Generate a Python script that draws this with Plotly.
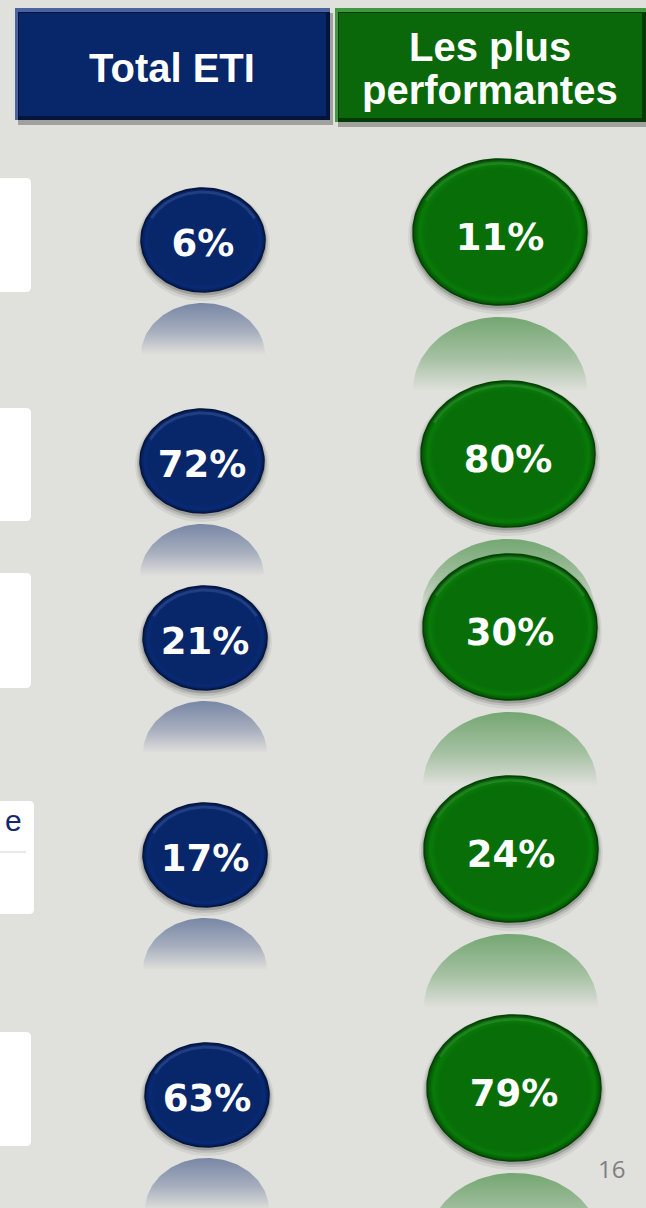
import numpy as np
import plotly.graph_objects as go

# ---------------- data ----------------
categories = ["Critère 1", "Critère 2", "Critère 3", "Critère 4", "Critère 5"]
series_names = ["Total ETI", "Les plus performantes"]
header_lines = [["Total ETI"], ["Les plus", "performantes"]]
total_eti = [6, 72, 21, 17, 63]
plus_performantes = [11, 80, 30, 24, 79]
page_number = "16"
partial_label = "e"

# ---------------- layout constants (pixels) ----------------
W, H = 646, 1208
BG = "#e0e0dc"
BLUE = (8, 38, 106)
GREEN = (8, 110, 8)
BLUE_CX = [203, 202, 205, 205, 207]
BLUE_CY = [240, 461, 638, 855, 1095]
GREEN_CX = [500, 508, 510, 511, 514]
GREEN_CY = [232, 454, 627, 849, 1088]
BLUE_R = (62, 52)
GREEN_R = (87, 73)
LEFT_BOXES = [(178, 292, 31), (408, 521, 31), (573, 688, 31), (801, 914, 34), (1032, 1146, 31)]


def rgba(c, a):
    return f"rgba({c[0]},{c[1]},{c[2]},{a})"


def shade(c, f):
    return f"rgb({min(255, int(c[0]*f))},{min(255, int(c[1]*f))},{min(255, int(c[2]*f))})"


def ellipse(cx, cy, rx, ry, n=140, t0=0, t1=2 * np.pi):
    t = np.linspace(t0, t1, n)
    return cx + rx * np.cos(t), cy + ry * np.sin(t)


fig = go.Figure()

series = [
    (total_eti, BLUE_CX, BLUE_CY, BLUE_R, BLUE, 11, 52, 0.48, 7),
    (plus_performantes, GREEN_CX, GREEN_CY, GREEN_R, GREEN, 12, 74, 0.50, 9),
]

# reflections
for vals, cxs, cys, (rx, ry), col, gap, fade, a0, _ in series:
    for v, cx, cy in zip(vals, cxs, cys):
        top = cy + ry + gap
        x, y = ellipse(cx, top + ry, rx, ry)
        fig.add_trace(go.Scatter(
            x=x, y=y, mode="lines", fill="toself", line=dict(width=0),
            fillgradient=dict(type="vertical", start=top, stop=top + fade,
                              colorscale=[[0, rgba(col, a0)], [0.55, rgba(col, a0 * 0.55)], [1, rgba(col, 0)]]),
            hoverinfo="skip", showlegend=False))

# shadows + bodies + text
for si, (vals, cxs, cys, (rx, ry), col, gap, fade, a0, toff) in enumerate(series):
    for ci, (v, cx, cy) in enumerate(zip(vals, cxs, cys)):
        for grow, dy, al in [(5, 4, 0.06), (3, 3, 0.10), (1.5, 2, 0.16)]:
            x, y = ellipse(cx, cy + dy, rx + grow, ry + grow)
            fig.add_trace(go.Scatter(x=x, y=y, mode="lines", fill="toself", line=dict(width=0),
                                     fillcolor=f"rgba(0,0,0,{al})", hoverinfo="skip", showlegend=False))
        x, y = ellipse(cx, cy, rx, ry)
        base = f"rgb{col}"
        fig.add_trace(go.Scatter(
            x=x, y=y, mode="lines", fill="toself",
            line=dict(width=1.5, color=shade(col, 0.6)),
            fillgradient=dict(type="radial",
                              colorscale=[[0, base], [0.86, base], [0.93, shade(col, 1.12)], [1, shade(col, 0.7)]]),
            name=series_names[si], text=f"{categories[ci]}: {v}%", hoverinfo="text", showlegend=False))
        # top highlight arc
        x, y = ellipse(cx, cy, rx - 4, ry - 4, n=60, t0=np.pi * 1.15, t1=np.pi * 1.85)
        fig.add_trace(go.Scatter(x=x, y=y, mode="lines", line=dict(width=3, color="rgba(255,255,255,0.10)"),
                                 hoverinfo="skip", showlegend=False))
    fig.add_trace(go.Scatter(
        x=cxs, y=[c + toff for c in cys], mode="text",
        text=[f"{v}%" for v in vals], textposition="middle center",
        textfont=dict(family="DejaVu Sans", size=37, color="white", weight="bold"),
        hoverinfo="skip", showlegend=False))

shapes = []
# left white boxes
for (y0, y1, x1) in LEFT_BOXES:
    shapes.append(dict(type="path", xref="x", yref="y",
                       path=f"M -10 {y0} L {x1-5} {y0} Q {x1} {y0} {x1} {y0+5} L {x1} {y1-5} Q {x1} {y1} {x1-5} {y1} L -10 {y1} Z",
                       fillcolor="white", line=dict(width=0), layer="below"))
shapes.append(dict(type="line", xref="x", yref="y", x0=0, x1=26, y0=852, y1=852,
                   line=dict(color="#d4d4d4", width=1), layer="below"))

# header boxes (act as legend)
HEADERS = [((15, 8, 330, 120), BLUE, "#4a64a0"), ((335, 8, 646, 122), (10, 104, 10), "#3f9a3f")]
for (x0, y0, x1, y1), col, light in HEADERS:
    shapes.append(dict(type="rect", xref="x", yref="y", x0=x0 + 3, y0=y0 + 5, x1=x1 + 3, y1=y1 + 5,
                       fillcolor="rgba(0,0,0,0.28)", line=dict(width=0), layer="below"))
    shapes.append(dict(type="rect", xref="x", yref="y", x0=x0, y0=y0, x1=x1, y1=y1,
                       fillcolor=light, line=dict(width=0), layer="below"))
    shapes.append(dict(type="rect", xref="x", yref="y", x0=x0 + 3, y0=y0 + 4, x1=x1, y1=y1,
                       fillcolor=shade(col, 0.55), line=dict(width=0), layer="below"))
    shapes.append(dict(type="rect", xref="x", yref="y", x0=x0 + 4, y0=y0 + 5, x1=x1 - 4, y1=y1 - 4,
                       fillcolor=f"rgb{col}", line=dict(width=0), layer="below"))

annotations = []
hfont = dict(family="Liberation Sans, Arial, sans-serif", size=40, color="white", weight="bold")
annotations.append(dict(x=172, y=68, xref="x", yref="y", text=header_lines[0][0], showarrow=False,
                        font=hfont, xanchor="center", yanchor="middle"))
annotations.append(dict(x=490, y=47, xref="x", yref="y", text=header_lines[1][0], showarrow=False,
                        font=hfont, xanchor="center", yanchor="middle"))
annotations.append(dict(x=490, y=90, xref="x", yref="y", text=header_lines[1][1], showarrow=False,
                        font=hfont, xanchor="center", yanchor="middle"))
annotations.append(dict(x=3, y=820, xref="x", yref="y", text=partial_label, showarrow=False,
                        font=dict(family="Liberation Sans, Arial, sans-serif", size=30, color="#14286e"),
                        xanchor="left", yanchor="middle"))
annotations.append(dict(x=611, y=1168, xref="x", yref="y", text=page_number, showarrow=False,
                        font=dict(family="Open Sans, sans-serif", size=24, color="#7f7f7f"),
                        xanchor="center", yanchor="middle"))

fig.update_layout(
    width=W, height=H, margin=dict(l=0, r=0, t=0, b=0),
    paper_bgcolor=BG, plot_bgcolor=BG,
    xaxis=dict(range=[0, W], visible=False, fixedrange=True),
    yaxis=dict(range=[H, 0], visible=False, fixedrange=True),
    shapes=shapes, annotations=annotations, showlegend=False,
)

fig.write_html("out.html", config={"displayModeBar": False},
               post_script="document.body.style.margin='0';document.body.style.background='#e0e0dc';")
